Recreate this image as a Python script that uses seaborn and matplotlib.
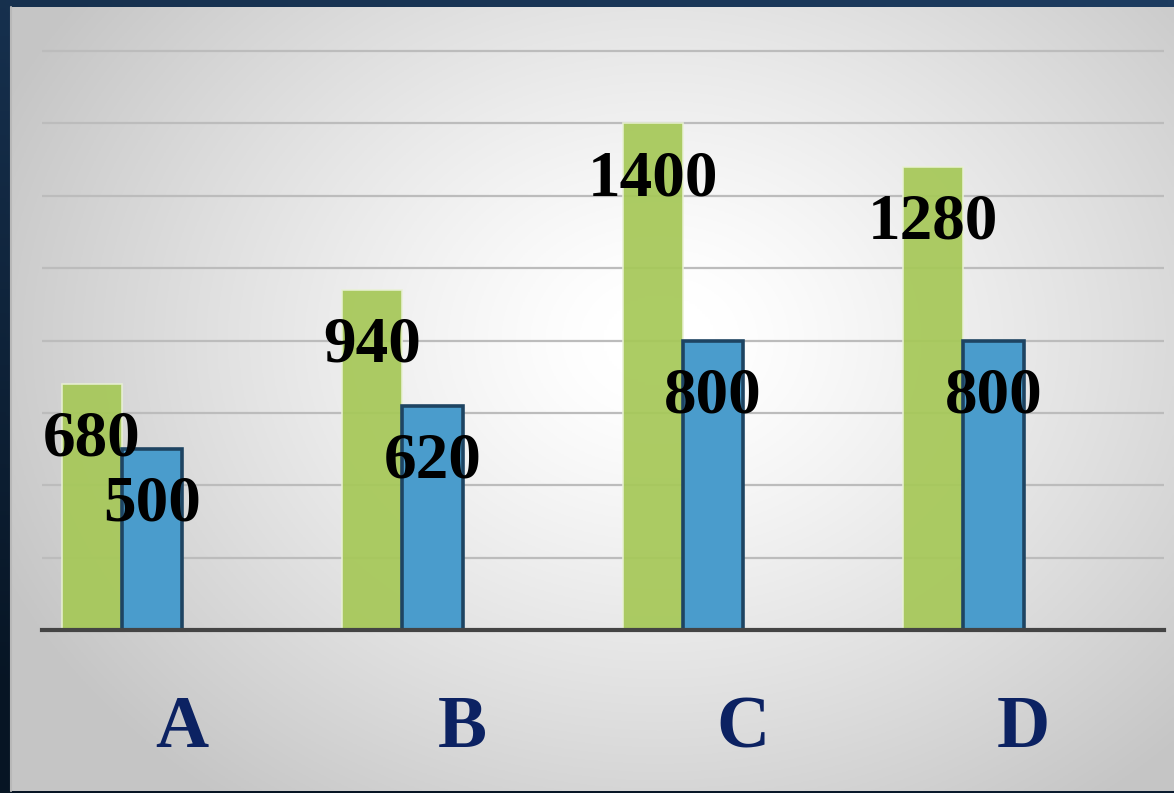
import numpy as np
import pandas as pd
import matplotlib
matplotlib.use("Agg")
import matplotlib.pyplot as plt
import seaborn as sns

# Chart data
categories = ["A", "B", "C", "D"]
series_names = ["Series 1", "Series 2"]
series_1 = [680, 940, 1400, 1280]
series_2 = [500, 620, 800, 800]
y_ticks = [0, 200, 400, 600, 800, 1000, 1200, 1400, 1600]

df = pd.DataFrame({
    "category": categories * 2,
    "series": [series_names[0]] * len(categories) + [series_names[1]] * len(categories),
    "value": series_1 + series_2,
})

sns.set_style("white")
plt.rcParams["font.family"] = ["Liberation Serif", "DejaVu Serif"]

W, H = 1174, 793
fig = plt.figure(figsize=(W / 100, H / 100), dpi=100)
fig.patch.set_facecolor("#16314f")

# Dark blue frame behind the panel
frame_ax = fig.add_axes([0, 0, 1, 1], zorder=-3)
fy = np.linspace(0, 1, 200)[:, None]
fx = np.linspace(0, 1, 200)[None, :]
top_c = np.array([0x1d, 0x3c, 0x60]) / 255
bot_c = np.array([0x07, 0x15, 0x24]) / 255
t = np.clip(fy * 0.8 + (1 - fx) * 0.3, 0, 1)[..., None]
frame_img = top_c * (1 - t) + bot_c * t
frame_ax.imshow(frame_img, aspect="auto", extent=[0, 1, 1, 0])
frame_ax.axis("off")

# Light panel with a soft radial highlight
px0, py0, px1, py1 = 11, 7, 1174, 791
panel_ax = fig.add_axes([px0 / W, (H - py1) / H, (px1 - px0) / W, (py1 - py0) / H], zorder=-2)
gh, gw = 300, 450
yy, xx = np.mgrid[0:gh, 0:gw]
xs = px0 + xx / (gw - 1) * (px1 - px0)
ys = py0 + yy / (gh - 1) * (py1 - py0)
r = np.sqrt(((xs - 660) / 720) ** 2 + ((ys - 340) / 580) ** 2)
r = np.clip(r, 0, 1)
light, dark = 1.0, 0.775
g = light - (light - dark) * np.clip((r - 0.08) / 0.92, 0, 1) ** 1.2
panel_img = np.dstack([g, g, g])
panel_ax.imshow(panel_img, aspect="auto", extent=[0, 1, 1, 0])
panel_ax.set_xlim(0, 1)
panel_ax.set_ylim(1, 0)
panel_ax.axis("off")
panel_ax.plot([0, 0], [0, 1], color="#b8b8b8", lw=1.5, transform=panel_ax.transAxes, clip_on=False)

# Main plotting area
ax_left, ax_right, ax_base, ax_top = 42, 1164, 630, 49
ax = fig.add_axes([ax_left / W, (H - ax_base) / H, (ax_right - ax_left) / W, (ax_base - ax_top) / H])
ax.patch.set_alpha(0)

green = "#a6c858"
blue = "#4a9ccc"
sns.barplot(data=df, x="category", y="value", hue="series", order=categories,
            hue_order=series_names, palette=[green, blue], width=0.43,
            saturation=1, dodge=True, legend=False, ax=ax, zorder=3)

bar_w = 0.215
edge_styles = [("#e9f1d4", 1.2, 0.93), ("#1e4462", 2.6, 1.0)]
for container, (ec, lw, alpha) in zip(ax.containers, edge_styles):
    for patch in container:
        patch.set_x(patch.get_x() - bar_w)
        patch.set_edgecolor(ec)
        patch.set_linewidth(lw)
        patch.set_joinstyle("miter")
        patch.set_alpha(alpha)

ax.set_xlim(-0.5, len(categories) - 0.5)
ax.set_ylim(0, 1600 * (ax_base - ax_top) / (ax_base - 51))
ax.set_yticks(y_ticks)
ax.set_yticklabels([])
ax.yaxis.grid(True, color="#bcbcbc", lw=1.6)
ax.xaxis.grid(False)
ax.set_axisbelow(True)
ax.tick_params(axis="y", length=0)
ax.tick_params(axis="x", length=0, pad=47, labelsize=53, labelcolor="#0c2262")
for lab in ax.get_xticklabels():
    lab.set_fontweight("bold")
ax.set_xlabel("")
ax.set_ylabel("")
for side in ["top", "right", "left"]:
    ax.spines[side].set_visible(False)
ax.spines["bottom"].set_color("#444444")
ax.spines["bottom"].set_linewidth(3)
ax.spines["bottom"].set_zorder(4)

# Value labels just inside the top of each bar
for container, values in zip(ax.containers, [series_1, series_2]):
    for patch, v in zip(container, values):
        cx = patch.get_x() + patch.get_width() / 2
        ax.annotate(f"{v}", xy=(cx, v), xytext=(0, -18.5), textcoords="offset points",
                    ha="center", va="top", fontsize=47, fontweight="bold",
                    color="black", zorder=6, annotation_clip=False)

fig.savefig("out.png", dpi=100, facecolor=fig.get_facecolor())
